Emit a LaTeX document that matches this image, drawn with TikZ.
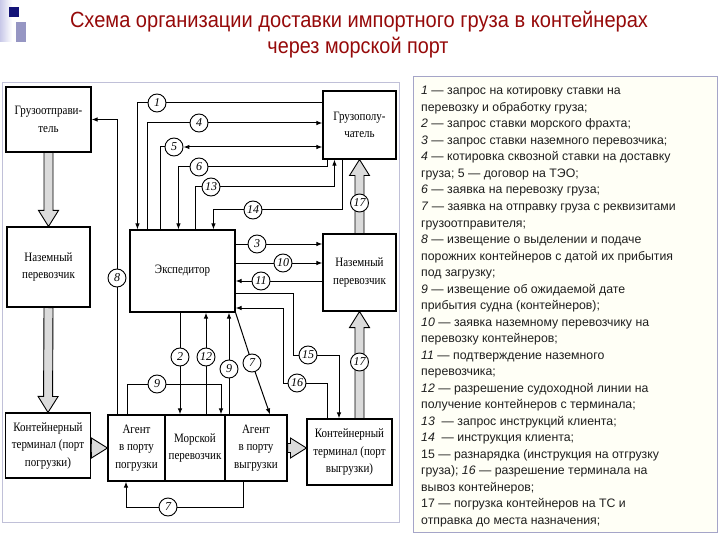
\documentclass[tikz,border=0pt]{standalone}
\usepackage{fontspec}
\usepackage{graphicx}
\setmainfont{Liberation Serif}
\newfontfamily\sansf{Liberation Sans}
\newfontfamily\boxf{Liberation Serif}[FakeStretch=0.86]
\usetikzlibrary{calc,arrows.meta}
\definecolor{titlered}{RGB}{150,10,10}
\definecolor{framecol}{RGB}{165,165,200}
\definecolor{boxbg}{RGB}{255,255,246}
\definecolor{navy}{RGB}{20,20,120}
\definecolor{lav}{RGB}{200,200,232}
\definecolor{slate}{RGB}{150,150,195}
\newcommand\hollowarrow[2]{%
  \path[hollow] let \p1=(#1), \p2=(#2), \n1={veclen(\x2-\x1,\y2-\y1)},
     \p3=({(\x2-\x1)/\n1},{(\y2-\y1)/\n1}) in
     ({\x1-4.5*\y3},{\y1+4.5*\x3}) --
     ({\x2-16*\x3-4.5*\y3},{\y2-16*\y3+4.5*\x3}) --
     ({\x2-16*\x3-10*\y3},{\y2-16*\y3+10*\x3}) --
     (\p2) --
     ({\x2-16*\x3+10*\y3},{\y2-16*\y3-10*\x3}) --
     ({\x2-16*\x3+4.5*\y3},{\y2-16*\y3-4.5*\x3}) --
     ({\x1+4.5*\y3},{\y1-4.5*\x3}) -- cycle;}
\begin{document}
\begin{tikzpicture}[x=1pt,y=-1pt,
  box/.style={draw, line width=1.1pt, inner sep=1pt, align=center,
    font=\boxf\fontsize{12.8}{17.5}\selectfont},
  num/.style={draw, circle, fill=white, line width=0.9pt, minimum size=18pt,
    inner sep=0pt, font=\fontsize{12}{12}\selectfont\itshape},
  con/.style={line width=1pt},
  arr/.style={con, -{Latex[length=6pt,width=4.5pt]}},
  arrb/.style={con, {Latex[length=6pt,width=4.5pt]}-{Latex[length=6pt,width=4.5pt]}},
  hollow/.style={draw, line width=0.9pt, fill=gray!28},
  legend/.style={anchor=base west, inner sep=0pt, text=black!88,
    font=\sansf\fontsize{12.3}{14}\selectfont}]
\useasboundingbox (0,0) rectangle (720,540);
\fill[white] (0,0) rectangle (720,540);
% slide icon
\fill[left color=lav, right color=white] (0,0) rectangle (12,42);
\fill[slate] (16,22) rectangle (26,42);
\fill[navy] (9,7) rectangle (19,17);
% title
\node[anchor=base, inner sep=0pt, text=titlered] (t1) at (359,28)
  {\resizebox{578pt}{\height}{\sansf\fontsize{22}{26}\selectfont Схема организации доставки импортного груза в контейнерах}};
\node[anchor=base, inner sep=0pt, text=titlered] (t2) at (358,54)
  {\resizebox{181pt}{\height}{\sansf\fontsize{22}{26}\selectfont через морской порт}};
% frames
\draw[framecol!70, line width=0.8pt] (2,82) rectangle (399,522);
\draw[framecol, line width=1pt, fill=boxbg] (413,77) rectangle (717,532);
% legend
\foreach \t [count=\i] in {
 {\textit{1} — запрос на котировку ставки на},
 {перевозку и обработку груза;},
 {\textit{2} — запрос ставки морского фрахта;},
 {\textit{3} — запрос ставки наземного перевозчика;},
 {\textit{4} — котировка сквозной ставки на доставку},
 {груза; 5 — договор на ТЭО;},
 {\textit{6} — заявка на перевозку груза;},
 {\textit{7} — заявка на отправку груза с реквизитами},
 {грузоотправителя;},
 {\textit{8} — извещение о выделении и подаче},
 {порожних контейнеров с датой их прибытия},
 {под загрузку;},
 {\textit{9} — извещение об ожидаемой дате},
 {прибытия судна (контейнеров);},
 {\textit{10} — заявка наземному перевозчику на},
 {перевозку контейнеров;},
 {\textit{11} — подтверждение наземного},
 {перевозчика;},
 {\textit{12} — разрешение судоходной линии на},
 {получение контейнеров с терминала;},
 {\textit{13} \ — запрос инструкций клиента;},
 {\textit{14} \ — инструкция клиента;},
 {15 — разнарядка (инструкция на отгрузку},
 {груза); \textit{16} — разрешение терминала на},
 {вывоз контейнеров;},
 {17 — погрузка контейнеров на ТС и},
 {отправка до места назначения;}}
 \node[legend] (l\i) at (421,{95+(\i-1)*16.5}) {\t};
% boxes
\node[box, minimum width=85pt, minimum height=65pt] (shipper) at (48.5,119.5) {Грузоотправи-\\тель};
\node[box, minimum width=83pt, minimum height=80pt] (landL) at (48.5,267) {Наземный\\перевозчик};
\node[box, minimum width=85pt, minimum height=65pt] (termL) at (48,445.5) {Контейнерный\\терминал (порт\\погрузки)};
\node[box, minimum width=57pt, minimum height=66pt] (agentL) at (136.5,448) {Агент\\в порту\\погрузки};
\node[box, minimum width=60pt, minimum height=66pt] (sea) at (195,448) {Морской\\перевозчик};
\node[box, minimum width=62pt, minimum height=66pt] (agentU) at (256,448) {Агент\\в порту\\выгрузки};
\node[box, minimum width=85pt, minimum height=66pt] (termU) at (349.5,452) {Контейнерный\\терминал (порт\\выгрузки)};
\node[box, minimum width=105pt, minimum height=82pt] (exped) at (182.5,271) {Экспедитор};
\node[box, minimum width=73pt, minimum height=68pt] (cons) at (359.5,125) {Грузополу-\\чатель};
\node[box, minimum width=73pt, minimum height=77pt] (landR) at (359.5,272.5) {Наземный\\перевозчик};
% hollow arrows
\hollowarrow{shipper.south}{landL.north}
\hollowarrow{landL.south}{termL.north}
\hollowarrow{termL.east |- agentL.west}{agentL.west}
\hollowarrow{agentU.east}{agentU.east -| termU.west}
\hollowarrow{landR.south |- termU.north}{landR.south}
\hollowarrow{landR.north}{cons.south}
% circles
\node[num] (c1) at (157,103) {1};
\node[num] (c4) at (199,123) {4};
\node[num] (c5) at (174,147) {5};
\node[num] (c6) at (199,167) {6};
\node[num] (c13) at (211,187) {13};
\node[num] (c14) at (253,210) {14};
\node[num] (c17a) at (359.5,203) {17};
\node[num] (c17b) at (359.5,362) {17};
\node[num] (c3) at (257,244) {3};
\node[num] (c10) at (283,263) {10};
\node[num] (c11) at (261,281) {11};
\node[num] (c8) at (117,278) {8};
\node[num] (c2) at (180,357) {2};
\node[num] (c12) at (206,357) {12};
\node[num] (c9b) at (229,369) {9};
\node[num] (c7a) at (252,363) {7};
\node[num] (c15) at (308,355) {15};
\node[num] (c16) at (297,383) {16};
\node[num] (c9a) at (157,384) {9};
\node[num] (c7b) at (168,507) {7};
% bend coordinates
\coordinate (x1) at ($(exped.north west)+(8,0)$);
\coordinate (x4) at ($(exped.north west)+(18,0)$);
\coordinate (x5) at ($(exped.north west)+(31,0)$);
\coordinate (x6) at ($(exped.north west)+(49,0)$);
\coordinate (x13) at ($(exped.north west)+(66,0)$);
\coordinate (x14) at ($(exped.north west)+(84,0)$);
\coordinate (y6) at ($(cons.south west)+(5,0)$);
\coordinate (y13) at ($(cons.south west)+(12,0)$);
\coordinate (y14) at ($(cons.south west)+(20,0)$);
\coordinate (k15) at (293,293);
\coordinate (t15) at (339,355);
\coordinate (k16) at (283,308);
\coordinate (t16) at (327,383);
\coordinate (k9) at (127,384);
\coordinate (m9) at (221,384);
\coordinate (k7) at (243,507);
\coordinate (j7) at (126,507);
\coordinate (e7) at ($(agentU.north)+(14,0)$);
% connectors
\draw[arr] (c1 -| cons.west) -- (c1) -- (c1 -| x1) -- (x1 |- exped.north);
\draw[arr] (x4 |- exped.north) -- (x4 |- c4) -- (c4) -- (c4 -| cons.west);
\draw[arrb] (x5 |- exped.north) -- (x5 |- c5) -- (c5) -- (c5 -| cons.west);
\draw[arr] (y6 |- cons.south) -- (y6 |- c6) -- (c6) -- (c6 -| x6) -- (x6 |- exped.north);
\draw[arr] (x13 |- exped.north) -- (x13 |- c13) -- (c13) -- (c13 -| y13) -- (y13 |- cons.south);
\draw[arr] (y14 |- cons.south) -- (y14 |- c14) -- (c14) -- (c14 -| x14) -- (x14 |- exped.north);
\draw[arr] (c8 |- agentL.north) -- (c8) -- (c8 |- shipper.east) -- (shipper.east);
\draw[arr] (c3 -| exped.east) -- (c3) -- (c3 -| landR.west);
\draw[arr] (c10 -| exped.east) -- (c10) -- (c10 -| landR.west);
\draw[arr] (c11 -| landR.west) -- (c11) -- (c11 -| exped.east);
\draw[arr] (k15 -| exped.east) -- (k15) -- (k15 |- c15) -- (c15) -- (t15) -- (t15 |- termU.north);
\draw[arr] (t16 |- termU.north) -- (t16) -- (c16) -- (c16 -| k16) -- (k16) -- (k16 -| exped.east);
\draw[arr] (c2 |- exped.south) -- (c2) -- (c2 |- sea.north);
\draw[arr] (c12 |- sea.north) -- (c12) -- (c12 |- exped.south);
\draw[arr] (c9b |- agentU.north) -- (c9b) -- (c9b |- exped.south);
\draw[arr] (exped.south east) -- (c7a) -- (e7);
\draw[arr] (k9 |- agentL.north) -- (k9) -- (c9a) -- (m9) -- (m9 |- sea.north);
\draw[arr] (k7 |- agentU.south) -- (k7) -- (c7b) -- (j7) -- (j7 |- agentL.south);
\end{tikzpicture}
\end{document}
